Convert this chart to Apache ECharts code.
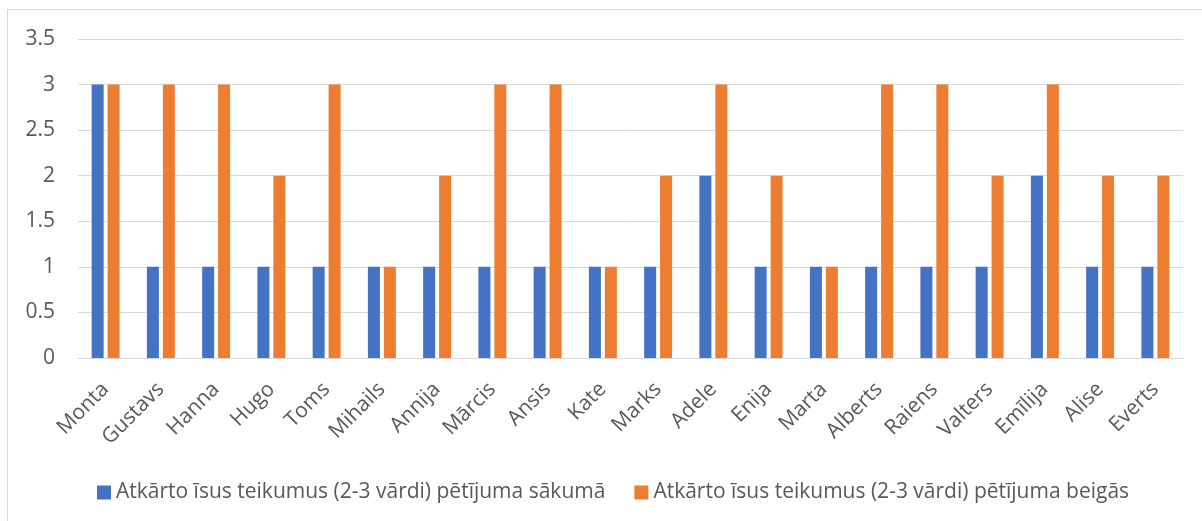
<!DOCTYPE html>
<html>
<head>
<meta charset="utf-8">
<script src="https://cdn.jsdelivr.net/npm/echarts@6/dist/echarts.min.js"></script>
<style>
    html, body { margin: 0; padding: 0; background: #fff; overflow: hidden; }
    #frame {
        position: absolute; left: 7px; top: 9px;
        width: 1220px; height: 540px;
        border: 1px solid #d9d9d9;
    }
    #chart { position: absolute; left: 0; top: 0; width: 1202px; height: 521px; }
</style>
</head>
<body>
<div id="frame"></div>
<div id="chart"></div>
<script>
    var names = ['Monta', 'Gustavs', 'Hanna', 'Hugo', 'Toms', 'Mihails', 'Annija', 'Mārcis', 'Ansis', 'Kate',
                 'Marks', 'Adele', 'Enija', 'Marta', 'Alberts', 'Raiens', 'Valters', 'Emīlija', 'Alise', 'Everts'];
    var startValues = [3, 1, 1, 1, 1, 1, 1, 1, 1, 1, 1, 2, 1, 1, 1, 1, 1, 2, 1, 1];
    var endValues = [3, 3, 3, 2, 3, 1, 2, 3, 3, 1, 2, 3, 2, 1, 3, 3, 2, 3, 2, 2];
    var seriesNames = ['Atkārto īsus teikumus (2-3 vārdi) pētījuma sākumā',
                       'Atkārto īsus teikumus (2-3 vārdi) pētījuma beigās'];

    var font = '"Open Sans", Lato, sans-serif';
    var chart = echarts.init(document.getElementById('chart'));
    chart.setOption({
        animation: false,
        color: ['#4472C4', '#ED7D31'],
        textStyle: { fontFamily: font },
        legend: {
            data: seriesNames,
            top: 477,
            left: 92,
            itemWidth: 14,
            itemHeight: 14,
            itemGap: 29,
            icon: 'rect',
            textStyle: { fontSize: 21, color: '#595959', fontFamily: font }
        },
        grid: { left: 78, right: 19, top: 39, bottom: 163, containLabel: false },
        xAxis: {
            type: 'category',
            data: names,
            axisLine: { lineStyle: { color: '#d9d9d9', width: 1 } },
            axisTick: { show: false },
            axisLabel: { rotate: 45, fontSize: 21, color: '#595959', margin: 28, interval: 0, fontFamily: font }
        },
        yAxis: {
            type: 'value',
            min: 0,
            max: 3.5,
            interval: 0.5,
            axisLine: { show: false },
            axisTick: { show: false },
            splitLine: { lineStyle: { color: '#d9d9d9', width: 1 } },
            axisLabel: { fontSize: 21, color: '#595959', margin: 23, fontFamily: font }
        },
        series: [
            { name: seriesNames[0], type: 'bar', data: startValues, barWidth: 12, barGap: '33%' },
            { name: seriesNames[1], type: 'bar', data: endValues, barWidth: 12, barGap: '33%' }
        ]
    });
</script>
</body>
</html>
